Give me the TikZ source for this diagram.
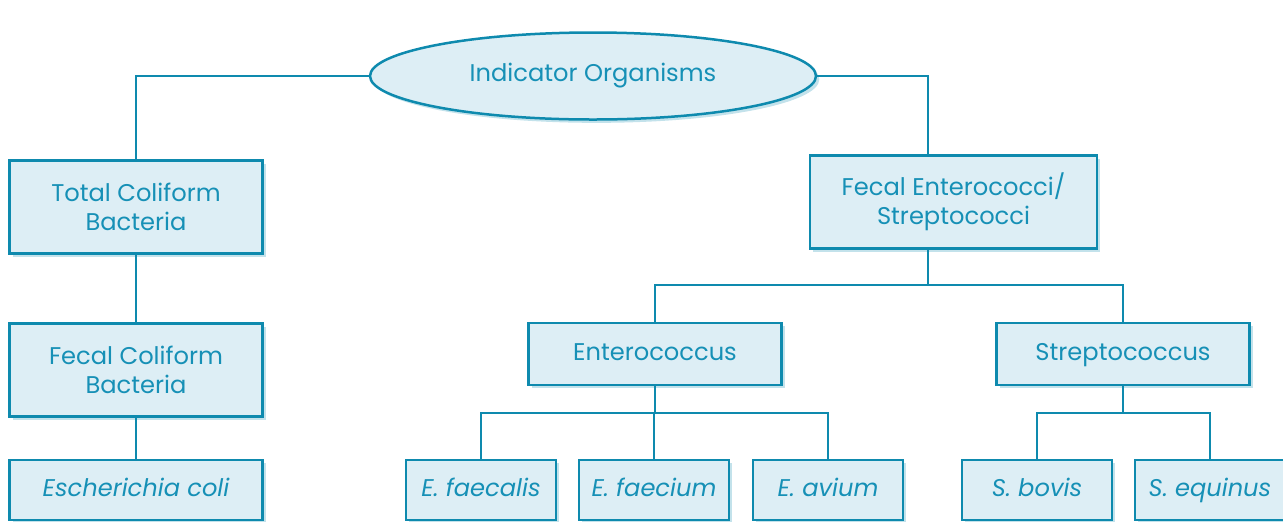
\documentclass[tikz,border=0pt]{standalone}
\usepackage{fontspec}
\setmainfont{Poppins}
\usetikzlibrary{shapes.geometric,shadows}
\definecolor{orgline}{HTML}{0E8AAE}
\definecolor{orgfill}{HTML}{DDEEF5}
\definecolor{orgtext}{HTML}{1690B6}
\begin{document}
\begin{tikzpicture}[x=0.6pt,y=-0.6pt]
\tikzstyle{every node}=[text=orgtext,font=\fontsize{14.5}{17.5}\selectfont,align=center]
\tikzstyle{orgbox}=[draw=orgline,line width=1.5pt,fill=orgfill,inner sep=0pt,
  drop shadow={shadow xshift=2pt,shadow yshift=-2pt,opacity=0.25,fill=orgline}]
\tikzstyle{bigbox}=[orgbox,minimum width=151.8pt,minimum height=55.8pt]
\tikzstyle{midbox}=[orgbox,minimum width=151.8pt,minimum height=37.2pt,text height=11pt,text depth=3pt]
\tikzstyle{leafbox}=[orgbox,minimum width=90pt,minimum height=36pt,text height=11pt,text depth=3pt,
  font=\fontsize{14.5}{17.5}\selectfont\itshape]
\tikzstyle{link}=[draw=orgline,line width=1.1pt]
\useasboundingbox (0,0) rectangle (1283,521);

%% top
\node[orgbox,ellipse,minimum width=267.6pt,minimum height=52.2pt] (ind) at (593,76) {Indicator Organisms};

%% coliform branch
\node[bigbox] (tcb) at (136,207) {Total Coliform\\Bacteria};
\node[bigbox] (fcb) at (136,370) {Fecal Coliform\\Bacteria};
\node[leafbox,minimum width=151.8pt] (eco) at (136,490) {Escherichia coli};

%% enterococci branch
\node[bigbox,minimum width=172.2pt] (fes) at (953.5,202) {Fecal Enterococci/\\Streptococci};
\node[midbox] (ent) at (655,354) {Enterococcus};
\node[midbox] (str) at (1123,354) {Streptococcus};
\node[leafbox] (efl) at (481,490) {E. faecalis};
\node[leafbox] (efm) at (654,490) {E. faecium};
\node[leafbox] (eav) at (828,490) {E. avium};
\node[leafbox] (sbo) at (1037,490) {S. bovis};
\node[leafbox] (seq) at (1210,490) {S. equinus};

\coordinate (jfes) at (928,285);
\coordinate (jent) at (655,413);
\coordinate (jstr) at (1123,413);

%% connectors
\path[link] (ind.west) -| (tcb.north);
\path[link] (ind.east) -| (fes.north -| jfes);
\path[link] (tcb) -- (fcb);
\path[link] (fcb) -- (eco);
\path[link] (fes.south -| jfes) -- (jfes);
\path[link] (jfes) -| (ent.north);
\path[link] (jfes) -| (str.north);
\path[link] (ent.south) -- (jent);
\path[link] (jent) -| (efl.north);
\path[link] (jent) -| (efm.north);
\path[link] (jent) -| (eav.north);
\path[link] (str.south) -- (jstr);
\path[link] (jstr) -| (sbo.north);
\path[link] (jstr) -| (seq.north);
\end{tikzpicture}
\end{document}
